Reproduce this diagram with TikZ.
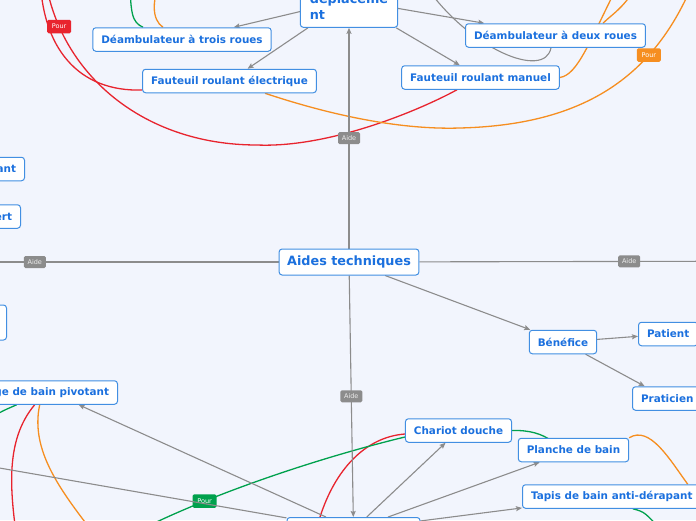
\documentclass[tikz,border=0pt]{standalone}
\usepackage{fontspec}
\setmainfont{DejaVu Sans}
\usetikzlibrary{arrows.meta}

\definecolor{canvas}{RGB}{242,245,253}
\definecolor{topicblue}{RGB}{27,112,222}
\definecolor{borderblue}{RGB}{66,143,226}
\definecolor{linkgray}{RGB}{140,140,140}
\definecolor{relred}{RGB}{232,36,46}
\definecolor{relgreen}{RGB}{0,161,77}
\definecolor{relorange}{RGB}{246,142,32}

\pgfdeclarelayer{bg}
\pgfdeclarelayer{links}
\pgfsetlayers{bg,links,main}

\begin{document}
\begin{tikzpicture}[
    x=1pt, y=-1pt, % pixel units, y going down
    >={Stealth[length=6pt,width=5pt,inset=1pt]}, % arrow tip of the branches
    topic/.style={draw=borderblue, line width=1pt, fill=white, rounded corners=3pt,
        text=topicblue, font=\bfseries\fontsize{12.8}{16}\selectfont,
        inner xsep=8pt, minimum height=26pt},
    subtopic/.style={draw=borderblue, line width=1pt, fill=white, rounded corners=3pt,
        text=topicblue, font=\bfseries\fontsize{10.4}{12.5}\selectfont,
        inner xsep=8.5pt, minimum height=23.5pt},
    branch/.style={draw=linkgray, line width=1.1pt},
    rel/.style={line width=1.3pt},
    aidetag/.style={fill=linkgray, rounded corners=1.5pt, text=white!85!gray,
        font=\fontsize{6.5}{7}\selectfont, minimum width=22pt, minimum height=12pt, inner sep=1pt},
    pourtag/.style={rounded corners=1.5pt, text=white,
        font=\fontsize{6.5}{7}\selectfont, minimum width=24pt, minimum height=13.5pt, inner sep=1pt}
]

    % --- Canvas ---
    \useasboundingbox (0,0) rectangle (696,520);
    \begin{pgfonlayer}{bg}
        \fill[canvas] (0,0) rectangle (696,520);
    \end{pgfonlayer}
    \clip (0,0) rectangle (696,520);

    % --- Topics ---
    \node[topic] (aides) at (349,262) {Aides techniques};
    \node[topic, align=left, inner xsep=9.5pt, minimum height=54pt] (deplacement) at (349,0)
        {\strut\\déplaceme\\nt\strut};
    \node[subtopic] (trois) at (182,39.5) {Déambulateur à trois roues};
    \node[subtopic] (electrique) at (229.5,81) {Fauteuil roulant électrique};
    \node[subtopic] (deux) at (555.5,35.5) {Déambulateur à deux roues};
    \node[subtopic] (manuel) at (480.5,77.5) {Fauteuil roulant manuel};
    \node[subtopic] (benefice) at (563,342) {Bénéfice};
    \node[subtopic, anchor=west] (patient) at (638,334) {Patient};
    \node[subtopic, anchor=west] (praticien) at (632,398.5) {Praticien};
    \node[subtopic] (chariot) at (458.5,430.5) {Chariot douche};
    \node[subtopic] (planche) at (573.5,450) {Planche de bain};
    \node[subtopic, anchor=west] (tapis) at (522,496.5) {Tapis de bain anti-dérapant};
    \node[subtopic, anchor=north, minimum width=133pt, minimum height=24pt] (hygiene) at (353.5,517) {};
    \node[subtopic, anchor=east] (pivotant) at (118,392.5) {ge de bain pivotant};
    \node[subtopic, anchor=east] (leftA) at (25,169) {ant};
    \node[subtopic, anchor=east] (leftB) at (21,216.5) {ert};
    \node[subtopic, anchor=east, minimum width=60pt, minimum height=35pt] (leftC) at (7,322.5) {};

    % --- Ends outside the view ---
    \coordinate (redtopA) at (40,-30);
    \coordinate (redtopB) at (44,-30);
    \coordinate (greentop) at (130,-30);
    \coordinate (orangetop) at (165,-30);
    \coordinate (orangeNE) at (690,-10);
    \coordinate (orangeN1) at (618,-15);
    \coordinate (orangeN2) at (640,-20);
    \coordinate (graytop) at (425,-15);
    \coordinate (offW) at (-209,262);
    \coordinate (offE) at (839,261);
    \coordinate (offSW) at (-100,450.7);
    \coordinate (greenSW) at (140,530);
    \coordinate (greenW) at (-20,425);
    \coordinate (redS) at (17,540);
    \coordinate (orangeS) at (95,535);
    \coordinate (greenSE) at (665,535);

    \begin{pgfonlayer}{links}
    % --- Relations ---
    \draw[rel, relred] (redtopA) .. controls (40,50) and (80,92) .. ([yshift=-9pt]electrique.west);
    \draw[rel, relred] (redtopB) .. controls (55,70) and (140,145) .. (257,145)
        node[pourtag, fill=relred, pos=0.2] (pourred) {Pour}
        .. controls (330,148) and (420,110) .. ([xshift=-23.5pt]manuel.south);
    \draw[rel, relred] ([xshift=-33.5pt]hygiene.north) .. controls (335,470) and (365,437) .. ([yshift=-3.5pt]chariot.west);
    \draw[rel, relred] ([xshift=-17pt]pivotant.south) .. controls (5,440) and (10,490) .. (redS);

    \draw[rel, relgreen] (greentop) .. controls (130,15) and (132,22) .. ([xshift=-39pt]trois.north);
    \draw[rel, relgreen] (greenSW) .. controls (220,490) and (330,455) .. ([yshift=-6.5pt]chariot.west)
        node[pourtag, fill=relgreen, pos=0.25] (pourgreen) {Pour};
    \draw[rel, relgreen] (chariot.east) .. controls (530,430) and (542,434) .. ([xshift=-22pt,yshift=-3pt]planche.north);
    \draw[rel, relgreen] ([xshift=21pt]tapis.south) .. controls (645,512) .. (greenSE);
    \draw[rel, relgreen] (greenW) .. controls (0,412) .. ([xshift=-35pt]pivotant.south);

    \draw[rel, relorange] (orangetop) .. controls (150,0) and (152,20) .. ([xshift=-19pt]trois.north);
    \draw[rel, relorange] ([xshift=35.5pt]electrique.south) .. controls (330,115) and (400,130) .. (460,128)
        .. controls (580,125) and (650,80) .. (orangeNE)
        node[pourtag, fill=relorange, pos=0.72] (pourorange) {Pour};
    \draw[rel, relorange] (manuel.east) .. controls (578,75) and (590,40) .. (orangeN1);
    \draw[rel, relorange] ([xshift=47.5pt]deux.north) .. controls (612,14) and (625,8) .. (orangeN2);
    \draw[rel, relorange] (planche.north east) .. controls (650,425) and (670,460) .. ([xshift=76pt]tapis.north);
    \draw[rel, relorange] ([xshift=-12pt]pivotant.south) .. controls (30,450) and (60,490) .. (orangeS);

    \draw[branch] (graytop) .. controls (470,50) and (545,80) .. ([xshift=-4.5pt]deux.south);

    % --- Branches ---
    \draw[branch, ->] (aides) -- (deplacement) node[aidetag, pos=0.5] {Aide};
    \draw[branch, ->] (aides) -- (offW) node[aidetag, pos=0.5] {Aide};
    \draw[branch, ->] (aides) -- (offE) node[aidetag, pos=0.5] {Aide};
    \draw[branch, ->] (aides) -- (hygiene) node[aidetag, pos=0.5] {Aide};
    \draw[branch, ->] (aides) -- (benefice);
    \draw[branch, ->] (benefice) -- (patient);
    \draw[branch, ->] (benefice) -- (praticien);
    \foreach \target in {trois, electrique, deux, manuel} {
        \draw[branch, ->] (deplacement) -- (\target);
    }
    \foreach \target in {pivotant, chariot, planche, tapis, offSW} {
        \draw[branch, ->] (hygiene) -- (\target);
    }
    \end{pgfonlayer}

\end{tikzpicture}
\end{document}
